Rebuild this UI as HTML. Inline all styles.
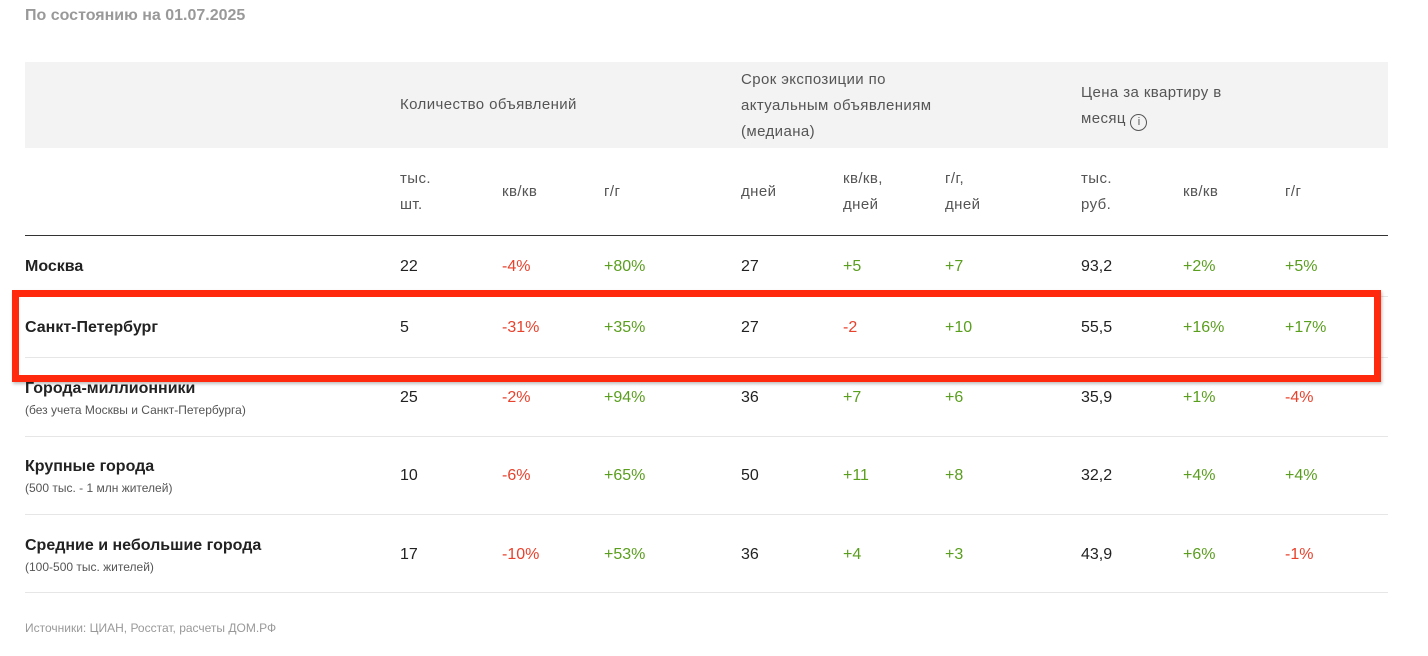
<!DOCTYPE html>
<html><head><meta charset="utf-8">
<style>
body{margin:0;width:1428px;height:656px;background:#fff;position:relative;overflow:hidden;font-family:"Liberation Sans","Noto Sans CJK SC",sans-serif;color:#222}
.a{position:absolute;white-space:nowrap}
.h{color:#555;font-size:15px;line-height:26px;letter-spacing:.4px}
.v{font-size:16px;line-height:20px}
.g{color:#5a9e1e}.r{color:#e8412c}
.sub{font-size:12px;color:#555}
.line{position:absolute;left:25px;width:1363px;height:1px;background:#e6e6e6}
</style></head><body>
<div class="a" style="left:25px;top:7px;font-size:16px;color:#999;font-weight:bold">По состоянию на 01.07.2025</div>
<div class="a" style="left:25px;top:62px;width:1363px;height:86px;background:#f3f3f3"></div>
<div class="a h" style="left:400px;top:92px">Количество объявлений</div>
<div class="a h" style="left:741px;top:67px">Срок экспозиции по<br>актуальным объявлениям<br>(медиана)</div>
<div class="a h" style="left:1081px;top:80px">Цена за квартиру в<br>месяц <span style="display:inline-block;width:15px;height:15px;border:1.5px solid #555;border-radius:50%;font-size:11px;line-height:15px;text-align:center;vertical-align:-2px;letter-spacing:0">i</span></div>
<div id="sub"></div>
<div class="a" style="left:25px;top:235px;width:1363px;height:1px;background:#333"></div>
<div id="rows"></div>
<div class="a" style="left:25px;top:621px;font-size:12px;color:#999">Источники: ЦИАН, Росстат, расчеты ДОМ.РФ</div>
<div class="a" style="left:12px;top:290px;width:1355px;height:78px;border:7px solid #ff2a0e;box-shadow:1px 2px 3px rgba(0,0,0,.25)"></div>
<script>
const colX=[400,502,604,741,843,945,1081,1183,1285];
const subHeads=["тыс.<br>шт.","кв/кв","г/г","дней","кв/кв,<br>дней","г/г,<br>дней","тыс.<br>руб.","кв/кв","г/г"];
const names=["Москва","Санкт-Петербург","Города-миллионники","Крупные города","Средние и небольшие города"];
const notes=["","","(без учета Москвы и Санкт-Петербурга)","(500 тыс. - 1 млн жителей)","(100-500 тыс. жителей)"];
const rowY=[266,327,397,475,554];
const sepY=[296,357,436,514,592];
const values=[
["22","-4%","+80%","27","+5","+7","93,2","+2%","+5%"],
["5","-31%","+35%","27","-2","+10","55,5","+16%","+17%"],
["25","-2%","+94%","36","+7","+6","35,9","+1%","-4%"],
["10","-6%","+65%","50","+11","+8","32,2","+4%","+4%"],
["17","-10%","+53%","36","+4","+3","43,9","+6%","-1%"]];
const sub=document.getElementById('sub');
subHeads.forEach((t,i)=>{const d=document.createElement('div');d.className='a h';


d.style.left=colX[i]+'px';d.style.top=(t.includes('<br>')?166:179)+'px';d.innerHTML=t;sub.appendChild(d);});
const rows=document.getElementById('rows');
names.forEach((n,r)=>{
 const s=document.createElement('div');s.className='line';s.style.top=sepY[r]+'px';
 
 
 rows.appendChild(s);
 const l=document.createElement('div');l.className='a v';
 
 
 l.style.left='25px';l.style.fontWeight='bold';
 if(notes[r]){l.style.top=(rowY[r]-18)+'px';l.innerHTML=n+'<br><span class="sub" style="font-weight:normal;line-height:22px">'+notes[r]+'</span>';}
 else{l.style.top=(rowY[r]-9)+'px';l.textContent=n;}
 rows.appendChild(l);
 values[r].forEach((v,i)=>{const c=document.createElement('div');
  c.className='a v'+(v[0]=='+'?' g':v[0]=='-'?' r':'');
  
  
  c.style.left=colX[i]+'px';c.style.top=(rowY[r]-9)+'px';c.textContent=v;rows.appendChild(c);});
});
</script>
</body></html>
